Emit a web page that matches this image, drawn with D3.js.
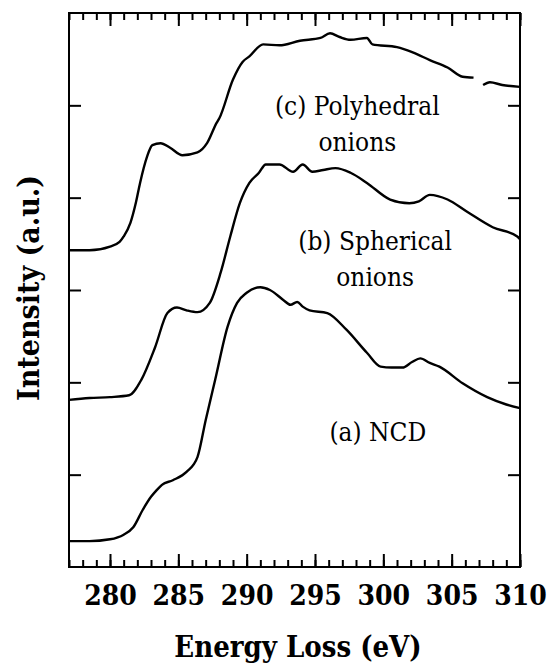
<!DOCTYPE html>
<html>
<head>
<meta charset="utf-8">
<script src="https://cdn.jsdelivr.net/npm/d3@7"></script>
<style>
  body { margin: 0; background: #fff; }
</style>
</head>
<body>
<script>
// energy axis ticks
var majorTicks = [280, 285, 290, 295, 300, 305, 310];
var minorTicks = d3.range(277, 311);
var yTicks = [1, 2, 3, 4, 5];

// (a) NCD
var ncdEnergy = [277, 278.5, 280, 281, 281.7, 282.4, 283, 283.4, 283.8, 284.6, 285.6, 286.4, 287, 287.7, 288.6, 289.3, 290, 291, 291.7, 292.7, 293.2, 293.7, 294.1, 294.6, 295.9, 297.3, 298.8, 299.8, 300.6, 301.4, 302.1, 302.7, 303.4, 304.1, 305.8, 307.6, 309, 310];
var ncdIntensity = [0.28, 0.28, 0.30, 0.35, 0.43, 0.62, 0.76, 0.83, 0.89, 0.94, 1.03, 1.19, 1.59, 2.03, 2.60, 2.86, 2.97, 3.03, 3.00, 2.89, 2.84, 2.87, 2.82, 2.78, 2.75, 2.57, 2.32, 2.17, 2.16, 2.16, 2.22, 2.26, 2.21, 2.17, 1.99, 1.84, 1.76, 1.72];

// (b) spherical onions
var sphEnergy = [277, 278.5, 280, 281.4, 282.3, 283.3, 284.2, 284.9, 285.6, 286.4, 287.3, 288.1, 288.8, 289.5, 290.2, 290.9, 291.4, 292.4, 293.4, 294.1, 294.8, 295.6, 296.5, 297.6, 298.8, 300.5, 301.9, 302.6, 303.4, 304.7, 306.1, 308, 309.8, 310];
var sphIntensity = [1.81, 1.83, 1.84, 1.86, 2.03, 2.38, 2.75, 2.81, 2.78, 2.76, 2.86, 3.19, 3.58, 3.94, 4.16, 4.27, 4.36, 4.36, 4.28, 4.36, 4.28, 4.30, 4.32, 4.27, 4.16, 3.98, 3.94, 3.96, 4.03, 3.98, 3.85, 3.68, 3.58, 3.55];

// (c) polyhedral onions (small gap near 307 eV)
var polyEnergy = [277, 278.5, 280, 280.7, 281, 281.5, 281.9, 282.2, 282.7, 283.1, 283.7, 284.4, 285.3, 286.4, 287.1, 287.8, 288, 289, 289.7, 290.2, 291.2, 292.4, 293.9, 295.4, 296.1, 296.8, 297.6, 298.8, 299.2, 301, 302.2, 303.4, 304.7, 305.8, 306.6, 307, 307.3, 307.8, 308.7, 310];
var polyIntensity = [3.43, 3.43, 3.47, 3.52, 3.58, 3.73, 3.95, 4.16, 4.44, 4.57, 4.59, 4.54, 4.46, 4.49, 4.59, 4.81, 4.86, 5.28, 5.47, 5.53, 5.66, 5.65, 5.70, 5.73, 5.78, 5.74, 5.71, 5.73, 5.66, 5.63, 5.57, 5.49, 5.41, 5.31, 5.30, null, 5.22, 5.25, 5.22, 5.20];

var labelText = [["(c) Polyhedral", "onions"], ["(b) Spherical", "onions"], ["(a) NCD"]];

var serif = "DejaVu Serif Condensed";

var width = 547, height = 663;
var margin = {top: 13, right: 27, bottom: 96, left: 69};

var x = d3.scaleLinear().domain([277, 310]).range([margin.left, width - margin.right]);
var y = d3.scaleLinear().domain([0, 6]).range([height - margin.bottom, margin.top]);

var svg = d3.select("body").append("svg")
  .attr("width", width)
  .attr("height", height);

var x0 = margin.left, x1 = width - margin.right;
var y0 = height - margin.bottom, y1 = margin.top;

function styleAxis(g) {
  g.select(".domain").remove();
  g.selectAll(".tick line").attr("stroke", "#000").attr("stroke-width", 2);
}

// bottom axis: minor + major ticks pointing in
svg.append("g")
  .attr("transform", "translate(0," + y0 + ")")
  .call(d3.axisBottom(x).tickValues(minorTicks).tickSize(-7).tickFormat(""))
  .call(styleAxis);
svg.append("g")
  .attr("transform", "translate(0," + y0 + ")")
  .call(d3.axisBottom(x).tickValues(majorTicks).tickSize(-13).tickPadding(18).tickFormat(d3.format("d")))
  .call(styleAxis)
  .attr("font-family", serif)
  .selectAll("text")
  .attr("fill", "#000")
  .style("font-size", "28px")
  .style("font-weight", "bold");

// top axis
svg.append("g")
  .attr("transform", "translate(0," + y1 + ")")
  .call(d3.axisTop(x).tickValues(minorTicks).tickSize(-7).tickFormat(""))
  .call(styleAxis);
svg.append("g")
  .attr("transform", "translate(0," + y1 + ")")
  .call(d3.axisTop(x).tickValues(majorTicks).tickSize(-13).tickFormat(""))
  .call(styleAxis);

// left / right axes
svg.append("g")
  .attr("transform", "translate(" + x0 + ",0)")
  .call(d3.axisLeft(y).tickValues(yTicks).tickSize(-12).tickFormat(""))
  .call(styleAxis);
svg.append("g")
  .attr("transform", "translate(" + x1 + ",0)")
  .call(d3.axisRight(y).tickValues(yTicks).tickSize(-12).tickFormat(""))
  .call(styleAxis);

// frame
svg.append("rect")
  .attr("x", x0).attr("y", y1)
  .attr("width", x1 - x0).attr("height", y0 - y1)
  .attr("fill", "none").attr("stroke", "#000").attr("stroke-width", 2);

// spectra
var line = d3.line()
  .defined(function(d) { return d[1] != null; })
  .curve(d3.curveMonotoneX)
  .x(function(d) { return x(d[0]); })
  .y(function(d) { return y(d[1]); });

var spectra = [
  d3.zip(ncdEnergy, ncdIntensity),
  d3.zip(sphEnergy, sphIntensity),
  d3.zip(polyEnergy, polyIntensity)
];

svg.selectAll(".spectrum")
  .data(spectra)
  .enter().append("path")
  .attr("class", "spectrum")
  .attr("d", line)
  .attr("fill", "none")
  .attr("stroke", "#000")
  .attr("stroke-width", 2.4)
  .attr("stroke-linejoin", "round");

// curve labels
var labelPos = [[298.1, 4.90, 4.51], [299.4, 3.43, 3.04], [299.6, 1.36]];
labelText.forEach(function(lines, i) {
  var p = labelPos[i];
  lines.forEach(function(t, j) {
    svg.append("text")
      .attr("x", x(p[0]))
      .attr("y", y(p[j + 1]))
      .attr("text-anchor", "middle")
      .attr("font-family", serif)
      .style("font-size", "26px")
      .text(t);
  });
});

// axis titles
svg.append("text")
  .attr("x", 298)
  .attr("y", 657)
  .attr("text-anchor", "middle")
  .attr("font-family", serif)
  .style("font-size", "29px")
  .style("font-weight", "bold")
  .text("Energy Loss (eV)");

svg.append("text")
  .attr("transform", "translate(39," + 288 + ") rotate(-90)")
  .attr("text-anchor", "middle")
  .attr("font-family", serif)
  .style("font-size", "30px")
  .style("font-weight", "bold")
  .text("Intensity (a.u.)");
</script>
</body>
</html>
